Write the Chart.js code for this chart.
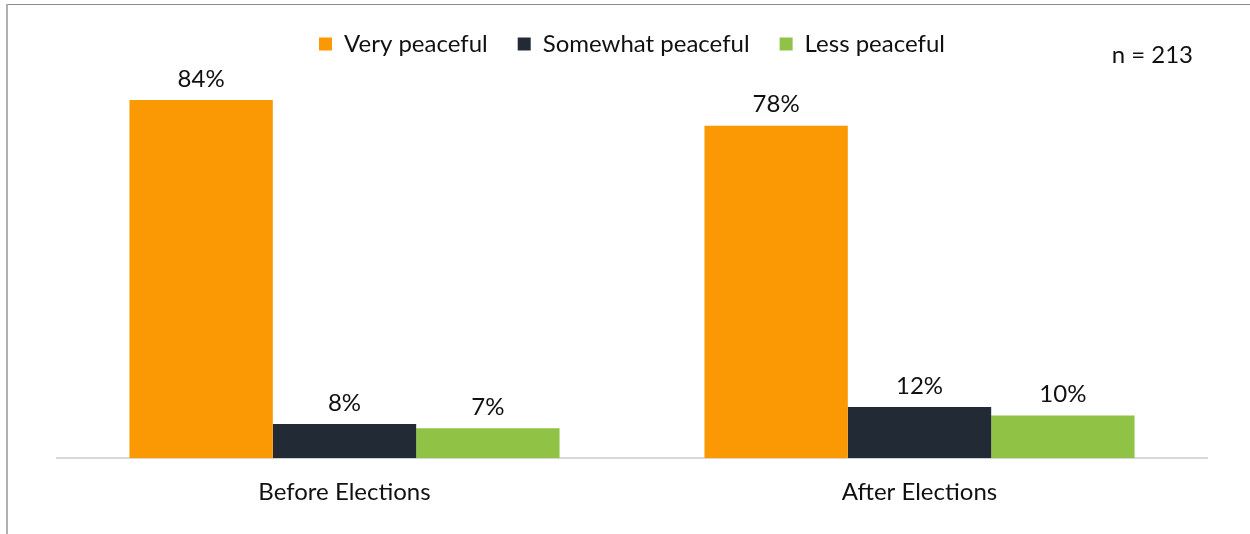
<!DOCTYPE html>
<html>
<head>
<meta charset="utf-8">
<script src="https://cdn.jsdelivr.net/npm/chart.js@4/dist/chart.umd.min.js"></script>
<style>
  html, body { margin: 0; padding: 0; background: #fff; }
  #wrap { position: absolute; left: 0; top: 0; width: 1250px; height: 534px; }
  #lineTop { position: absolute; left: 6px; top: 4px; width: 1244px; height: 1px; background: #8c8c8c; }
  #lineLeft { position: absolute; left: 6px; top: 4px; width: 2px; height: 530px; background: #b0b0b0; }
</style>
</head>
<body>
<div id="wrap"><canvas id="c" width="1250" height="534"></canvas></div>
<div id="lineTop"></div>
<div id="lineLeft"></div>
<script>
const categories = ["Before Elections", "After Elections"];
const seriesNames = ["Very peaceful", "Somewhat peaceful", "Less peaceful"];
const veryPeaceful = [84, 78];
const somewhatPeaceful = [8, 12];
const lessPeaceful = [7, 10];
const seriesColors = ["#FB9904", "#222A35", "#8FC245"];
const sampleNote = "n = 213";
const yMax = 92;

const FONT = "Lato, 'Open Sans', sans-serif";

const valueLabels = {
  id: "valueLabels",
  afterDatasetsDraw(chart) {
    const ctx = chart.ctx;
    ctx.save();
    ctx.font = "24px " + FONT;
    ctx.fillStyle = "#111";
    ctx.textAlign = "center";
    ctx.textBaseline = "bottom";
    chart.data.datasets.forEach((ds, i) => {
      const meta = chart.getDatasetMeta(i);
      meta.data.forEach((bar, j) => {
        ctx.fillText(ds.data[j] + "%", bar.x, bar.y - 9);
      });
    });
    ctx.restore();
  }
};

const noteLabel = {
  id: "noteLabel",
  afterDraw(chart) {
    const ctx = chart.ctx;
    ctx.save();
    ctx.font = "24px " + FONT;
    ctx.fillStyle = "#111";
    ctx.textAlign = "right";
    ctx.textBaseline = "middle";
    ctx.fillText(sampleNote, 1193, 55);
    ctx.restore();
  }
};

new Chart(document.getElementById("c"), {
  type: "bar",
  data: {
    labels: categories,
    datasets: [
      { label: seriesNames[0], data: veryPeaceful, backgroundColor: seriesColors[0] },
      { label: seriesNames[1], data: somewhatPeaceful, backgroundColor: seriesColors[1] },
      { label: seriesNames[2], data: lessPeaceful, backgroundColor: seriesColors[2] }
    ]
  },
  options: {
    responsive: false,
    animation: false,
    layout: { padding: { left: 57, right: 43, top: 2, bottom: 7 } },
    datasets: { bar: { categoryPercentage: 0.748, barPercentage: 1.0 } },
    plugins: {
      legend: {
        display: true,
        position: "top",
        labels: {
          boxWidth: 13,
          boxHeight: 13,
          padding: 30,
          color: "#111",
          font: { family: FONT, size: 24 }
        }
      },
      tooltip: { enabled: false }
    },
    scales: {
      x: {
        grid: { display: false, drawTicks: false },
        border: { display: true, color: "#d9d9d9", width: 2 },
        ticks: { color: "#111", font: { family: FONT, size: 24 }, padding: 20 }
      },
      y: {
        display: false,
        min: 0,
        max: yMax
      }
    }
  },
  plugins: [valueLabels, noteLabel]
});
</script>
</body>
</html>
